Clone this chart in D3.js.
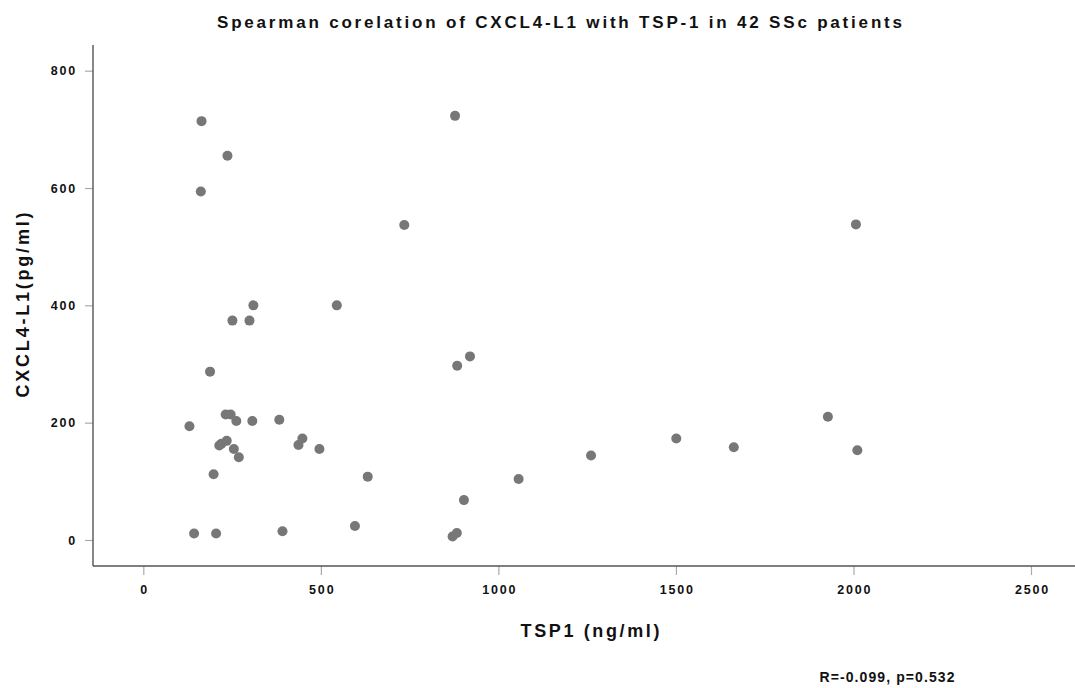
<!DOCTYPE html>
<html>
<head>
<meta charset="utf-8">
<script src="https://cdn.jsdelivr.net/npm/d3@7"></script>
<style>
  body { margin: 0; background: #fff; }
  text { font-family: "Liberation Sans", Arial, Helvetica, sans-serif; font-weight: bold; fill: #111; }
  .tick text { font-size: 12.5px; letter-spacing: 1.8px; }
</style>
</head>
<body>
<div id="chart"></div>
<script>
// TSP-1 (ng/ml) per patient
var tsp1 = [164, 237, 162, 878, 735, 2007, 310, 545, 251, 299, 920, 884, 188,
  232, 246, 262, 307, 383, 130, 1928, 214, 220, 235, 255, 269, 437, 448, 496,
  1501, 1663, 2011, 1261, 198, 632, 1057, 903, 143, 205, 392, 596, 871, 883];
// CXCL4-L1 (pg/ml) per patient
var cxcl4 = [714, 655, 594, 723, 537, 538, 400, 400, 374, 374, 313, 297, 287,
  214, 214, 203, 203, 205, 194, 210, 161, 164, 169, 155, 141, 162, 173, 155,
  173, 158, 153, 144, 112, 108, 104, 68, 11, 11, 15, 24, 6, 12];

var xTicks = [0, 500, 1000, 1500, 2000, 2500];
var yTicks = [0, 200, 400, 600, 800];

var titleText = "Spearman corelation of CXCL4-L1 with TSP-1 in 42 SSc patients";
var xLabel = "TSP1 (ng/ml)";
var yLabel = "CXCL4-L1(pg/ml)";
var statText = "R=-0.099, p=0.532";

var width = 1075, height = 688;
var frame = { left: 93, top: 45, bottom: 566, right: 1075 };

var data = tsp1.map((d, i) => ({ x: d, y: cxcl4[i] }));

var xScale = d3.scaleLinear().domain([0, 2500]).range([143.3, 1031]);
var yScale = d3.scaleLinear().domain([0, 800]).range([540, 70.7]);

var svg = d3.select("#chart")
  .append("svg")
  .attr("width", width)
  .attr("height", height);

// axes
var xAxis = d3.axisBottom(xScale).tickValues(xTicks).tickFormat(d3.format("d"))
  .tickSize(9).tickPadding(10).tickSizeOuter(0);
var yAxis = d3.axisLeft(yScale).tickValues(yTicks).tickFormat(d3.format("d"))
  .tickSize(8).tickPadding(8).tickSizeOuter(0);

var gx = svg.append("g")
  .attr("transform", `translate(0,${frame.bottom})`)
  .call(xAxis);
var gy = svg.append("g")
  .attr("transform", `translate(${frame.left},0)`)
  .call(yAxis);

[gx, gy].forEach(g => {
  g.select(".domain").remove();
  g.selectAll(".tick line").attr("stroke", "#aaa").attr("stroke-width", 1.2);
  g.selectAll(".tick text").attr("fill", "#111").style("font-family", "Liberation Sans, Arial, sans-serif");
});
gx.selectAll(".tick text").attr("dy", "0.71em").attr("dx", "0.9px");

// axis frame lines
svg.append("line")
  .attr("x1", frame.left).attr("x2", frame.right)
  .attr("y1", frame.bottom).attr("y2", frame.bottom)
  .attr("stroke", "#555").attr("stroke-width", 1.4);
svg.append("line")
  .attr("x1", frame.left).attr("x2", frame.left)
  .attr("y1", frame.top).attr("y2", frame.bottom)
  .attr("stroke", "#555").attr("stroke-width", 1.4);

// points
svg.append("g")
  .selectAll("circle")
  .data(data)
  .enter()
  .append("circle")
  .attr("cx", d => xScale(d.x))
  .attr("cy", d => yScale(d.y))
  .attr("r", 5)
  .attr("fill", "#777");

// title and labels
svg.append("text")
  .attr("x", 559.5).attr("y", 28)
  .attr("text-anchor", "middle")
  .attr("textLength", 685).attr("lengthAdjust", "spacing")
  .style("font-size", "17px")
  .text(titleText);

svg.append("text")
  .attr("x", 590).attr("y", 637)
  .attr("text-anchor", "middle")
  .attr("textLength", 139).attr("lengthAdjust", "spacing")
  .style("font-size", "18px")
  .text(xLabel);

svg.append("text")
  .attr("transform", "translate(29,305) rotate(-90)")
  .attr("text-anchor", "middle")
  .attr("textLength", 185).attr("lengthAdjust", "spacing")
  .style("font-size", "18px")
  .text(yLabel);

svg.append("text")
  .attr("x", 887).attr("y", 682)
  .attr("text-anchor", "middle")
  .attr("textLength", 135).attr("lengthAdjust", "spacing")
  .style("font-size", "14px")
  .text(statText);
</script>
</body>
</html>
